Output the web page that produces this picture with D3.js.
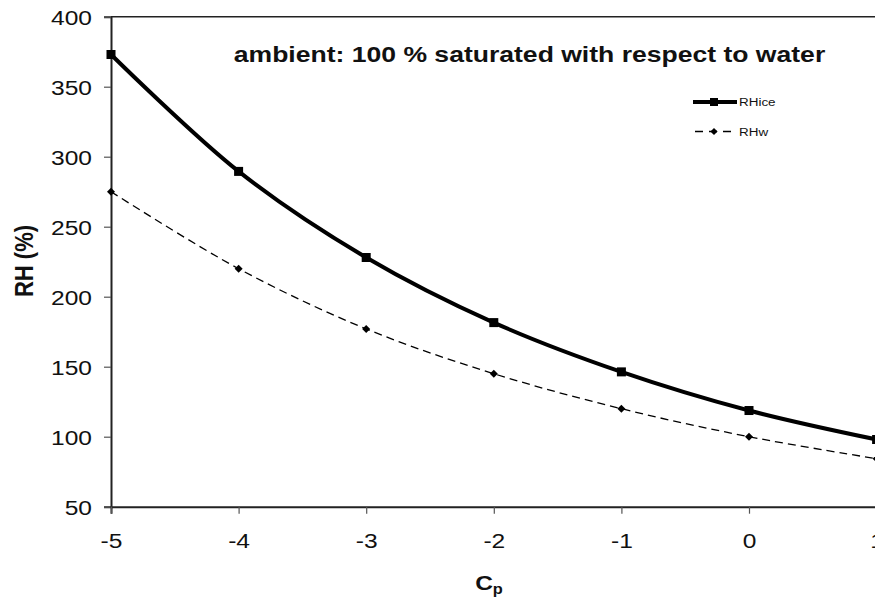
<!DOCTYPE html>
<html>
<head>
<meta charset="utf-8">
<script src="https://cdn.jsdelivr.net/npm/d3@7"></script>
<style>
  html, body { margin: 0; padding: 0; background: #fff; }
  svg { display: block; font-family: "Liberation Sans", Arial, sans-serif; }
</style>
</head>
<body>
<svg id="chart" width="875" height="601"></svg>
<script>
// Temperature offset (x) and relative humidity with respect to ice and water
const cp = [-5, -4, -3, -2, -1, 0, 1];
const rhIce = [373, 289.5, 228, 181.5, 146.3, 118.7, 98];
const rhW = [275, 220, 177, 145, 120, 100, 84.3];
const xTicks = [-5, -4, -3, -2, -1, 0, 1];
const yTicks = [50, 100, 150, 200, 250, 300, 350, 400];
const titleText = "ambient: 100 % saturated with respect to water";
const yLabel = "RH (%)";
const seriesNames = ["RHice", "RHw"];

// horizontal text stretch of the figure
const SX = 1.17;
// plain hyphen-minus for negative tick labels
const fmt = d => String(d);

const svg = d3.select("#chart");
const plotLeft = 111, plotTop = 16.7, plotBottom = 506.7, plotRight = 876.6;

const x = d3.scaleLinear().domain([-5, 1]).range([plotLeft, plotRight]);
const y = d3.scaleLinear().domain([50, 400]).range([plotBottom, plotTop]);

// plot frame: top and right border lines
svg.append("line")
  .attr("x1", plotLeft).attr("x2", plotRight + 2)
  .attr("y1", plotTop).attr("y2", plotTop)
  .attr("stroke", "#222").attr("stroke-width", 1.4);
svg.append("line")
  .attr("x1", plotRight).attr("x2", plotRight)
  .attr("y1", plotTop).attr("y2", plotBottom)
  .attr("stroke", "#222").attr("stroke-width", 1.4);

// y axis
const yAxis = svg.append("g")
  .attr("transform", `translate(${plotLeft},0)`)
  .call(d3.axisLeft(y).tickValues(yTicks).tickSize(7).tickPadding(0).tickFormat(fmt));
yAxis.select(".domain").attr("stroke", "#222").attr("stroke-width", 2);
yAxis.selectAll(".tick line").attr("stroke", "#555").attr("stroke-width", 1.2);
yAxis.selectAll(".tick text")
  .attr("x", null).attr("dy", null)
  .attr("transform", `translate(-19,7.5) scale(${SX},1)`)
  .attr("font-size", 21).attr("fill", "#111")
  .attr("font-family", "Liberation Sans, Arial, sans-serif");

// x axis
const xAxis = svg.append("g")
  .attr("transform", `translate(0,${plotBottom})`)
  .call(d3.axisBottom(x).tickValues(xTicks).tickSize(7).tickPadding(0).tickFormat(fmt));
xAxis.select(".domain").attr("stroke", "#222").attr("stroke-width", 2);
xAxis.selectAll(".tick line").attr("stroke", "#555").attr("stroke-width", 1.2);
xAxis.selectAll(".tick text")
  .attr("y", null).attr("dy", null)
  .attr("transform", `translate(0,41.5) scale(${SX},1)`)
  .attr("font-size", 21).attr("fill", "#111")
  .attr("font-family", "Liberation Sans, Arial, sans-serif");

// axis titles
svg.append("text")
  .attr("transform", `translate(33,261) scale(${SX},1) rotate(-90)`)
  .attr("text-anchor", "middle")
  .attr("font-size", 22).attr("font-weight", "bold").attr("fill", "#111")
  .text(yLabel);

const cpLabel = svg.append("text")
  .attr("transform", `translate(489,590) scale(${SX},1)`)
  .attr("text-anchor", "middle")
  .attr("font-weight", "bold").attr("fill", "#111");
cpLabel.append("tspan").attr("font-size", 21).text("C");
cpLabel.append("tspan").attr("font-size", 14).attr("dy", 4).text("p");

// chart title
svg.append("text")
  .attr("transform", `translate(529.5,62) scale(${SX},1)`)
  .attr("text-anchor", "middle")
  .attr("font-size", 22.7).attr("font-weight", "bold").attr("fill", "#111")
  .text(titleText);

// series
const line = d3.line().curve(d3.curveCatmullRom.alpha(0.5))
  .x((d, i) => x(cp[i])).y(d => y(d));

svg.append("path").datum(rhW)
  .attr("d", line).attr("fill", "none")
  .attr("stroke", "#000").attr("stroke-width", 1.3)
  .attr("stroke-dasharray", "8,5");

svg.append("path").datum(rhIce)
  .attr("d", line).attr("fill", "none")
  .attr("stroke", "#000").attr("stroke-width", 4);

// rhombus marker: a square turned 45 degrees
const rhombus = s => `M0,${-s}L${s},0L0,${s}L${-s},0Z`;

svg.append("g").selectAll("path").data(rhW).join("path")
  .attr("transform", (d, i) => `translate(${x(cp[i])},${y(d)})`)
  .attr("d", rhombus(4))
  .attr("fill", "#000");

svg.append("g").selectAll("rect").data(rhIce).join("rect")
  .attr("x", (d, i) => x(cp[i]) - 4.5).attr("y", d => y(d) - 4.5)
  .attr("width", 9).attr("height", 9)
  .attr("fill", "#000");

// legend
const lg = svg.append("g");
lg.append("line").attr("x1", 693).attr("x2", 737).attr("y1", 102).attr("y2", 102)
  .attr("stroke", "#000").attr("stroke-width", 4);
lg.append("rect").attr("x", 710).attr("y", 98).attr("width", 8).attr("height", 8).attr("fill", "#000");
lg.append("text").attr("transform", `translate(739,106) scale(${SX},1)`)
  .attr("font-size", 11.5).attr("fill", "#111").text(seriesNames[0]);

lg.append("line").attr("x1", 695).attr("x2", 733).attr("y1", 131.5).attr("y2", 131.5)
  .attr("stroke", "#000").attr("stroke-width", 1.6).attr("stroke-dasharray", "8,6");
lg.append("path").attr("transform", "translate(714,131.5)")
  .attr("d", rhombus(3.6)).attr("fill", "#000");
lg.append("text").attr("transform", `translate(739,135.5) scale(${SX},1)`)
  .attr("font-size", 11.5).attr("fill", "#111").text(seriesNames[1]);
</script>
</body>
</html>
